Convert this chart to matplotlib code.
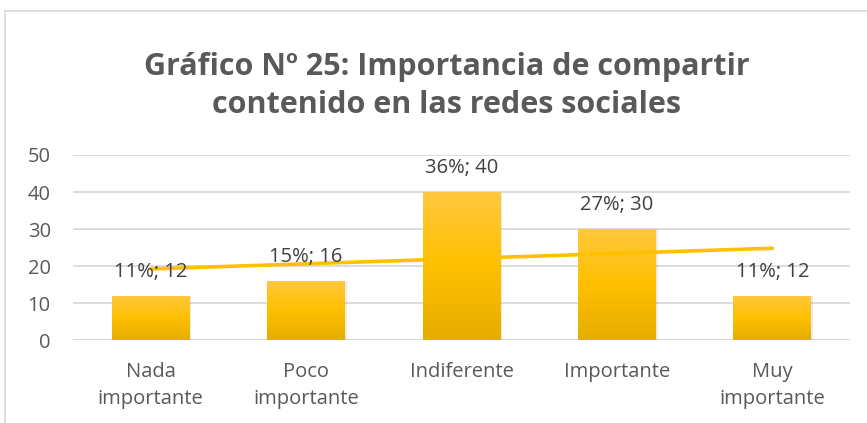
import numpy as np
import matplotlib.pyplot as plt
from matplotlib.patches import Rectangle
from matplotlib.colors import LinearSegmentedColormap

# Data
categories = ["Nada\nimportante", "Poco\nimportante", "Indiferente", "Importante", "Muy\nimportante"]
values = [12, 16, 40, 30, 12]
yticks = [0, 10, 20, 30, 40, 50]
title = "Gráfico Nº 25: Importancia de compartir\ncontenido en las redes sociales"

plt.rcParams['font.family'] = ['Open Sans', 'DejaVu Sans']

fig = plt.figure(figsize=(8.67, 4.23), dpi=100)
fig.patch.set_facecolor('white')

# chart border
fig.patches.append(Rectangle((5/867, -0.1), 1.2, 1 - 11/423 + 0.1, transform=fig.transFigure,
                             fill=False, ec='#D9D9D9', lw=1.2, zorder=0))

ax = fig.add_axes([73/867, 1 - 340/423, 777/867, 185/423])
x = np.arange(len(values))
w = 0.5

# gradient bars
cmap = LinearSegmentedColormap.from_list('gold', ['#E6AD00', '#FFC000', '#FFC83F'])
grad = np.linspace(0, 1, 256).reshape(-1, 1)
bars = ax.bar(x, values, width=w, color='none', zorder=3)
for b in bars:
    # soft shadow
    ax.add_patch(Rectangle((b.get_x() + 0.012, 0), b.get_width(), b.get_height(),
                           fc='#000000', alpha=0.08, ec='none', zorder=2))
    im = ax.imshow(grad, cmap=cmap, origin='lower', aspect='auto', zorder=3,
                   extent=[b.get_x(), b.get_x() + b.get_width(), 0, b.get_height()])
    im.set_clip_path(b)

# linear trend line
coef = np.polyfit(x, values, 1)
ax.plot(x, np.polyval(coef, x), color='#FFC000', lw=2.6, solid_capstyle='round', zorder=4)

# data labels
total = sum(values)
for xi, v in zip(x, values):
    ax.annotate(f"{round(v / total * 100)}%; {v}", (xi, v), xytext=(0, 10), textcoords='offset points',
                ha='center', va='bottom', fontsize=14.5, color='#404040', zorder=5)

ax.set_xlim(-0.5, len(values) - 0.5)
ax.set_ylim(0, 50)
ax.set_yticks(yticks)
ax.set_xticks(x)
ax.set_xticklabels(categories, fontsize=14.5, color='#595959', linespacing=1.45)
ax.tick_params(axis='y', labelsize=14.5, labelcolor='#595959', length=0, pad=16)
ax.tick_params(axis='x', length=0, pad=16)
ax.grid(axis='y', color='#D9D9D9', lw=1.3, zorder=0)
for s in ax.spines.values():
    s.set_visible(False)
ax.axhline(0, color='#D9D9D9', lw=1.5, zorder=1)

fig.text(0.5 + 13/867, 1 - 86/423, title, ha='center', va='center', fontsize=22,
         fontweight='bold', color='#595959', linespacing=1.36)

fig.savefig('out.png', dpi=100)
